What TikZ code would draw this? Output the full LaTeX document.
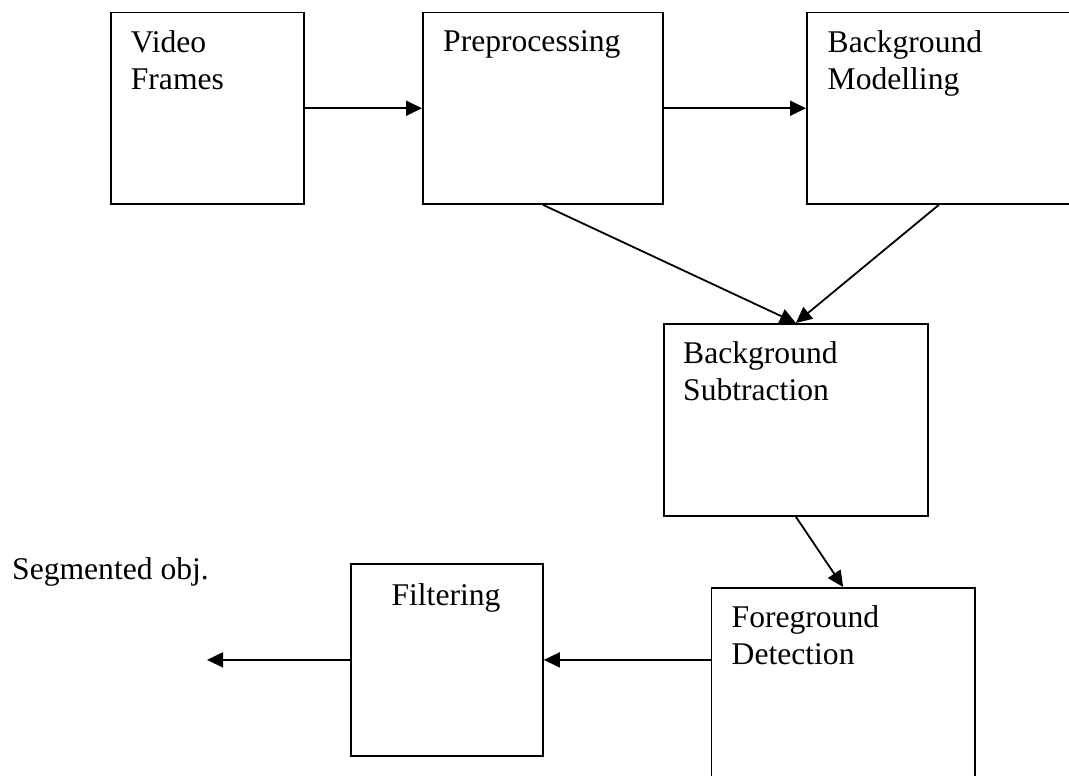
\documentclass[tikz,border=0pt]{standalone}
\usepackage{fontspec}
\setmainfont{Liberation Serif}
\usetikzlibrary{arrows.meta}
\begin{document}
\begin{tikzpicture}[x=1pt,y=-1pt,
  stage/.style={draw=black, line width=1.8pt, rectangle, inner sep=0pt, anchor=north west},
  caption/.style={anchor=base west, inner sep=0pt, align=left,
    font=\fontsize{31.6}{37.4}\selectfont},
  flow/.style={line width=1.8pt, -{Triangle[length=16pt,width=15pt]}}]
\useasboundingbox (0,0) rectangle (1069,776);
\clip (0,0) rectangle (1069,776);

% processing stages
\node[stage, minimum width=193pt, minimum height=191.3pt] (vf)  at (110,11.7) {};
\node[stage, minimum width=240pt, minimum height=191.3pt] (pre) at (422,11.7) {};
\node[stage, minimum width=264pt, minimum height=191.3pt] (bm)  at (806,11.7) {};
\node[stage, minimum width=264pt, minimum height=192pt]   (bs)  at (663,323) {};
\node[stage, minimum width=263.5pt, minimum height=260pt] (fd)  at (710.5,587) {};
\node[stage, minimum width=192pt, minimum height=192pt]   (fil) at (350,563) {};

% stage captions (base anchor sits on the last line)
\node[caption] (vf-t)  at (130.7,89.4) {Video\\Frames};
\node[caption] (pre-t) at (443,52) {Preprocessing};
\node[caption] (bm-t)  at (827.5,89.4) {Background\\Modelling};
\node[caption] (bs-t)  at (683,400.4) {Background\\Subtraction};
\node[caption] (fd-t)  at (731.5,664.4) {Foreground\\Detection};
\node[caption, anchor=base] (fil-t) at (446,605) {Filtering};
\node[caption] (out-t) at (12,579) {Segmented obj.};

% data flow
\path (fil.west) ++(-143,0) coordinate (out);
\draw[flow] (vf) -- (pre);
\draw[flow] (pre) -- (bm);
\draw[flow] (pre.south) -- (bs.north);
\draw[flow] (bm.south) -- (bs.north);
\draw[flow] (bs.south) -- (fd.north);
\draw[flow] (fd.west |- fil.east) -- (fil.east);
\draw[flow] (fil.west) -- (out);
\end{tikzpicture}
\end{document}
